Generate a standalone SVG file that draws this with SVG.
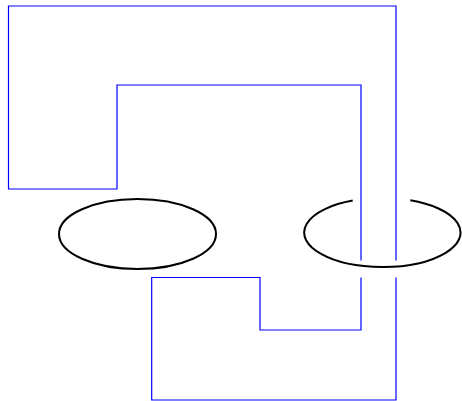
<svg xmlns="http://www.w3.org/2000/svg" width="462" height="401" viewBox="0 0 462 401">
<style>
.ring{fill:none;stroke:#000;stroke-width:2}
.wire{fill:none;stroke:#0000ff;stroke-width:1.2}
</style>
<rect width="462" height="401" fill="#fff"/>
<g id="ellipse-left">
<ellipse class="ring" cx="137.5" cy="234" rx="78.5" ry="35"/>
</g>
<g id="ellipse-right">
<path class="ring" d="M 352.7 200.6 A 78.2 34.5 0 1 0 410.3 200.3"/>
</g>
<g id="connectors">
<path class="wire" d="M 361 260.5 V 85 H 117 V 189 H 8.5 V 6 H 396 V 260.5"/>
<path class="wire" d="M 361 277.5 V 330 H 260 V 277.5 H 151.7 V 400 H 396 V 277.5"/>
</g>
</svg>
